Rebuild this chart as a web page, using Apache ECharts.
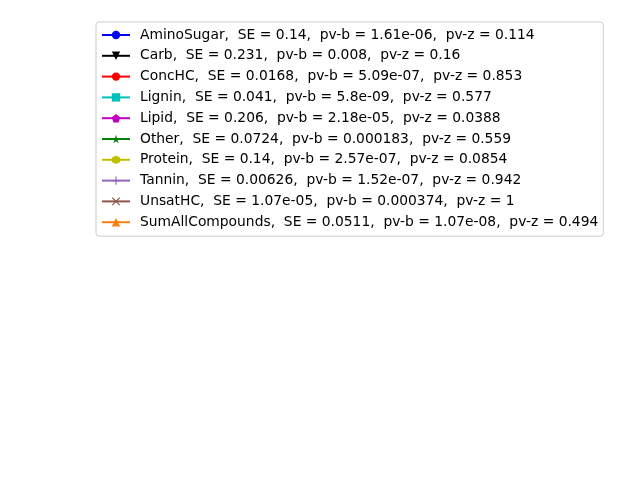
<!DOCTYPE html>
<html>
<head>
<meta charset="utf-8">
<script src="https://cdn.jsdelivr.net/npm/echarts@6/dist/echarts.min.js"></script>
<style>html,body{margin:0;padding:0;background:#fff;}#c{width:640px;height:480px;}</style>
</head>
<body>
<div id="c"></div>
<script>
var names = ['AminoSugar','Carb','ConcHC','Lignin','Lipid','Other','Protein','Tannin','UnsatHC','SumAllCompounds'];
var seValues = [0.14, 0.231, 0.0168, 0.041, 0.206, 0.0724, 0.14, 0.00626, 1.07e-05, 0.0511];
var pvbValues = [1.61e-06, 0.008, 5.09e-07, 5.8e-09, 2.18e-05, 0.000183, 2.57e-07, 1.52e-07, 0.000374, 1.07e-08];
var pvzValues = [0.114, 0.16, 0.853, 0.577, 0.0388, 0.559, 0.0854, 0.942, 1, 0.494];

var colors = ['#0000ff','#000000','#ff0000','#00bfbf','#bf00bf','#008000','#bfbf00','#9467bd','#8c564b','#ff7f0e'];
var symbols = [
  'circle',
  'path://M0,0 L10,0 L5,10 Z',
  'circle',
  'rect',
  'path://M5,0 L10,3.8 L8.1,10 L1.9,10 L0,3.8 Z',
  'path://M5,0 L6.2,3.6 L10,3.6 L6.9,5.9 L8.1,9.5 L5,7.3 L1.9,9.5 L3.1,5.9 L0,3.6 L3.8,3.6 Z',
  'path://M5,0 L9.33,2.5 L9.33,7.5 L5,10 L0.67,7.5 L0.67,2.5 Z',
  'path://M4.3,0 L5.7,0 L5.7,4.3 L10,4.3 L10,5.7 L5.7,5.7 L5.7,10 L4.3,10 L4.3,5.7 L0,5.7 L0,4.3 L4.3,4.3 Z',
  'path://M1,0 L5,4 L9,0 L10,1 L6,5 L10,9 L9,10 L5,6 L1,10 L0,9 L4,5 L0,1 Z',
  'triangle'
];

function fmtG(v) {
  if (v === 0) return '0';
  var e = Math.floor(Math.log10(Math.abs(v)));
  var m = v.toPrecision(3);
  if (e < -4 || e >= 3) {
    var s = v.toExponential(2);
    var parts = s.split('e');
    var mant = parts[0];
    if (mant.indexOf('.') >= 0) mant = mant.replace(/0+$/, '').replace(/\.$/, '');
    var ex = parseInt(parts[1], 10);
    var sign = ex < 0 ? '-' : '+';
    var ae = Math.abs(ex);
    return mant + 'e' + sign + (ae < 10 ? '0' + ae : '' + ae);
  }
  if (m.indexOf('.') >= 0) m = m.replace(/0+$/, '').replace(/\.$/, '');
  return m;
}

var labels = names.map(function (n, i) {
  return n + ',  SE = ' + fmtG(seValues[i]) + ',  pv-b = ' + fmtG(pvbValues[i]) + ',  pv-z = ' + fmtG(pvzValues[i]);
});

var series = labels.map(function (lab, i) {
  return {
    name: lab,
    type: 'line',
    data: [],
    symbol: symbols[i],
    symbolSize: 8,
    color: colors[i],
    lineStyle: { width: 2, color: colors[i] },
    itemStyle: { color: colors[i] }
  };
});

var chart = echarts.init(document.getElementById('c'), null, { renderer: 'canvas' });
chart.setOption({
  animation: false,
  backgroundColor: '#ffffff',
  grid: { show: false, left: 80, right: 64, top: 58, bottom: 53 },
  xAxis: { type: 'value', show: false },
  yAxis: { type: 'value', show: false },
  legend: {
    orient: 'vertical',
    left: 96,
    top: 22,
    width: 508,
    itemWidth: 28,
    itemHeight: 10.5,
    itemGap: 6.8,
    padding: [6, 5, 7, 5],
    backgroundColor: 'rgba(255,255,255,0.8)',
    borderColor: '#cccccc',
    borderWidth: 1,
    borderRadius: 3,
    selectedMode: false,
    textStyle: {
      fontFamily: 'DejaVu Sans',
      fontSize: 13.85,
      color: '#000000',
      padding: [0, 0, 0, 5]
    },
    data: labels
  },
  series: series
});
</script>
</body>
</html>
